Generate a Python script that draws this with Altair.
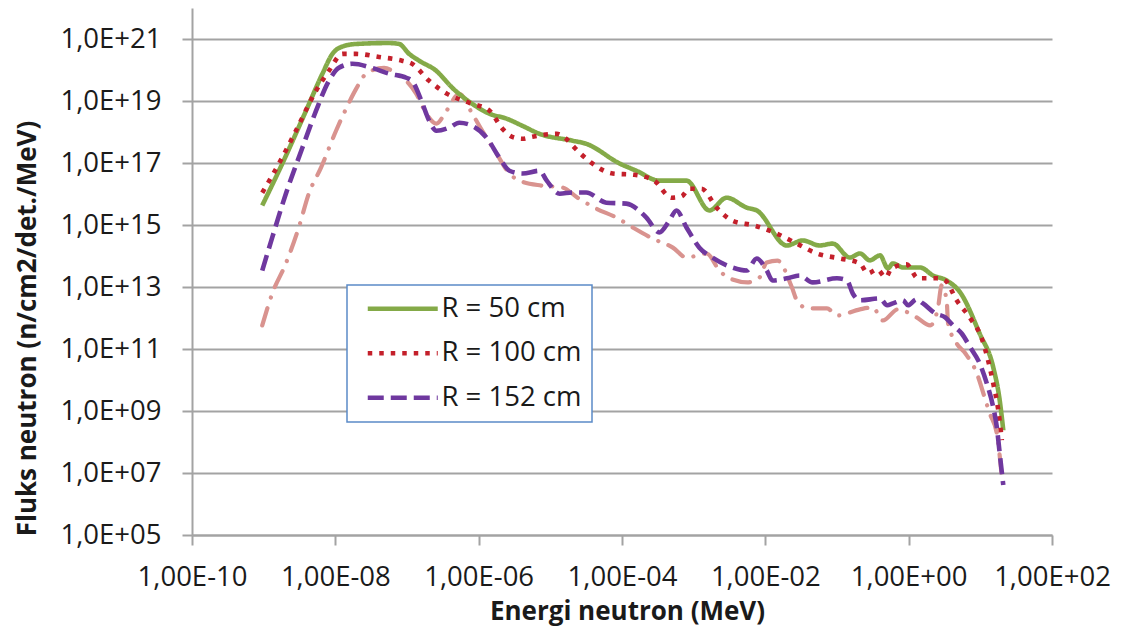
import altair as alt
import pandas as pd

# ---- data (log10 values) ----
R50_LOG_E = [-9.02, -8.74, -8.41, -8.18, -8.04, -7.95, -7.71, -7.25, -7.11, -6.97, -6.83, -6.59, -6.37,
             -6.09, -5.85, -5.61, -5.39, -5.15, -4.69, -4.50, -4.03, -3.80, -3.48, -3.10, -2.78, -2.54,
             -2.26, -2.12, -1.70, -1.48, -1.24, -1.06, -0.82, -0.68, -0.54, -0.40, -0.29, -0.22, -0.08,
             0.16, 0.34, 0.53, 0.72, 0.99, 1.18, 1.27, 1.32]
R50_LOG_F = [15.63, 16.98, 18.68, 19.88, 20.52, 20.71, 20.84, 20.87, 20.84, 20.52, 20.30, 19.97, 19.43,
             18.91, 18.59, 18.43, 18.20, 17.94, 17.72, 17.62, 16.98, 16.75, 16.43, 16.43, 15.47, 15.88,
             15.56, 15.47, 14.34, 14.50, 14.34, 14.40, 13.95, 14.08, 13.86, 14.02, 13.60, 13.76, 13.63,
             13.63, 13.37, 13.21, 12.82, 11.50, 10.41, 9.35, 8.38]

R100_LOG_E = [-9.02, -8.78, -8.55, -8.27, -8.09, -7.90, -7.71, -7.39, -7.07, -6.93, -6.69, -6.44, -6.13,
              -5.85, -5.67, -5.54, -5.39, -5.25, -4.91, -4.78, -4.66, -4.43, -4.13, -3.83, -3.55, -3.31,
              -3.17, -3.06, -2.89, -2.68, -2.46, -2.15, -1.84, -1.56, -1.28, -0.96, -0.68, -0.57, -0.44,
              -0.32, -0.24, -0.03, 0.13, 0.39, 0.51, 0.67, 0.86, 1.02, 1.18, 1.25, 1.30]
R100_LOG_F = [16.04, 17.01, 18.04, 19.33, 19.97, 20.52, 20.52, 20.42, 20.30, 20.20, 19.65, 19.23, 18.94,
              18.69, 18.11, 17.85, 17.78, 17.85, 17.94, 17.78, 17.49, 17.01, 16.66, 16.62, 16.43, 15.88,
              15.92, 16.17, 16.17, 15.56, 15.14, 14.98, 14.72, 14.40, 14.08, 13.92, 13.76, 13.44, 13.57,
              13.31, 13.60, 13.73, 13.28, 13.28, 13.21, 12.57, 11.99, 11.34, 9.89, 9.03, 8.06]

R152_LOG_E = [-9.02, -8.88, -8.69, -8.46, -8.27, -8.09, -7.95, -7.76, -7.49, -7.25, -7.01, -6.93, -6.80,
              -6.69, -6.59, -6.41, -6.27, -6.09, -5.89, -5.71, -5.57, -5.39, -5.15, -5.05, -4.87, -4.69,
              -4.50, -4.22, -3.94, -3.66, -3.48, -3.34, -3.24, -3.10, -2.92, -2.74, -2.46, -2.26, -2.12,
              -1.98, -1.90, -1.70, -1.52, -1.34, -1.00, -0.86, -0.78, -0.68, -0.40, -0.30, -0.22, -0.08,
              -0.01, 0.11, 0.20, 0.37, 0.51, 0.62, 0.74, 0.86, 0.99, 1.09, 1.18, 1.23, 1.27, 1.32]
R152_LOG_F = [13.53, 14.60, 16.01, 17.49, 18.68, 19.65, 20.07, 20.20, 20.07, 19.88, 19.75, 19.65, 19.01,
              18.36, 18.04, 18.14, 18.30, 18.20, 17.82, 17.17, 16.75, 16.66, 16.75, 16.43, 16.01, 16.05,
              16.05, 15.72, 15.69, 15.24, 14.76, 15.14, 15.47, 14.92, 14.27, 13.95, 13.63, 13.53, 13.92,
              13.53, 13.21, 13.28, 13.37, 13.15, 13.28, 13.21, 12.79, 12.57, 12.63, 12.41, 12.47, 12.57,
              12.41, 12.60, 12.47, 12.15, 12.02, 11.76, 11.50, 11.05, 10.54, 9.89, 9.12, 8.48, 7.64, 6.61]

# fourth (unlabelled) series, dash-dot
S4_LOG_E = [-9.02, -8.88, -8.69, -8.51, -8.37, -8.20, -7.99, -7.85, -7.71, -7.57, -7.32, -7.11, -7.01,
            -6.87, -6.73, -6.59, -6.45, -6.27, -6.09, -5.95, -5.75, -5.57, -5.43, -5.12, -4.83, -4.62,
            -4.36, -4.08, -3.85, -3.57, -3.29, -3.10, -2.82, -2.64, -2.50, -2.25, -2.08, -1.98, -1.83,
            -1.63, -1.56, -1.41, -1.14, -1.00, -0.68, -0.50, -0.36, -0.15, 0.11, 0.30, 0.41, 0.46,
            0.53, 0.55, 0.67, 0.79, 0.95, 1.06, 1.13, 1.23, 1.30]
S4_LOG_F = [11.76, 12.79, 13.76, 14.92, 16.01, 16.85, 18.04, 18.75, 19.39, 19.88, 20.07, 19.81, 19.65,
            19.23, 18.59, 18.27, 18.68, 19.23, 18.59, 18.04, 17.30, 16.66, 16.43, 16.27, 16.21, 15.88,
            15.53, 15.24, 14.92, 14.56, 14.27, 13.95, 14.08, 13.53, 13.28, 13.15, 13.31, 13.79, 13.85,
            12.99, 12.57, 12.31, 12.31, 12.08, 12.28, 12.34, 11.92, 12.28, 12.02, 11.76, 12.34, 13.05,
            12.57, 11.83, 11.18, 10.86, 10.22, 9.44, 8.93, 8.28, 6.87]

SERIES = ["R = 50 cm", "R = 100 cm", "R = 152 cm"]
COLORS = ["#84AA48", "#C4202B", "#6F389F"]
DASHES = [[1, 0], [4.5, 7], [16, 7]]
S4_NAME = "Seri 4"
S4_COLOR = "#D9938F"

X_TICKS = [1e-10, 1e-8, 1e-6, 1e-4, 1e-2, 1e0, 1e2]
Y_TICKS = [1e5, 1e7, 1e9, 1e11, 1e13, 1e15, 1e17, 1e19, 1e21]

rows = []
for name, le, lf in zip(SERIES, [R50_LOG_E, R100_LOG_E, R152_LOG_E], [R50_LOG_F, R100_LOG_F, R152_LOG_F]):
    for i, (a, b) in enumerate(zip(le, lf)):
        rows.append({"seri": name, "idx": i, "energi": 10 ** a, "fluks": 10 ** b})
df_main = pd.DataFrame(rows)
df_s4 = pd.DataFrame({"seri": S4_NAME, "idx": range(len(S4_LOG_E)),
                      "energi": [10 ** a for a in S4_LOG_E], "fluks": [10 ** b for b in S4_LOG_F]})

FONT = "Open Sans"
GRAY = "#A3A3A3"
TEXT = "#1A1A1A"

EXP = "round(log(datum.value)/LN10)"
x_label_expr = ("'1,00E' + (" + EXP + " < 0 ? '-' : '+') + (abs(" + EXP + ") < 10 ? '0' : '') + abs(" + EXP + ")")
y_label_expr = ("'1,0E+' + (" + EXP + " < 10 ? '0' : '') + " + EXP)

x_enc = alt.X("energi:Q",
              scale=alt.Scale(type="log", domain=[1e-10, 1e2]),
              axis=alt.Axis(values=X_TICKS, labelExpr=x_label_expr, grid=False,
                            title="Energi neutron (MeV)", titleX=435, titleY=76,
                            titleBaseline="middle", titleAlign="center",
                            labelPadding=18, labelFlush=False))
y_enc = alt.Y("fluks:Q",
              scale=alt.Scale(type="log", domain=[1e5, 1e22]),
              axis=alt.Axis(values=Y_TICKS, labelExpr=y_label_expr, grid=True,
                            title="Fluks neutron (n/cm2/det./MeV)", titleX=-165, titleY=320,
                            titleAngle=-90, titleBaseline="middle", titleAlign="center",
                            labelPadding=21))

legend = alt.Legend(title=None, orient="none", legendX=155, legendY=277,
                    fillColor="white", strokeColor="#5B8BC8", padding=10,
                    rowPadding=15.5, labelFont=FONT, labelFontSize=27.5, labelColor=TEXT,
                    symbolType="M-3.5,0H3.5", symbolSize=400, symbolOffset=32, labelOffset=25,
                    symbolStrokeWidth=4.6, cornerRadius=0)

s4 = alt.Chart(df_s4).mark_line(
    interpolate="monotone", strokeWidth=4.2, strokeCap="round", color=S4_COLOR,
    strokeDash=[18, 11, 0.1, 11], clip=True
).encode(x=x_enc, y=y_enc, order="idx:Q")

main = alt.Chart(df_main).mark_line(
    interpolate="monotone", strokeWidth=4.6, strokeCap="butt", clip=True
).encode(
    x=x_enc, y=y_enc, order="idx:Q",
    color=alt.Color("seri:N", scale=alt.Scale(domain=SERIES, range=COLORS), legend=legend),
    strokeDash=alt.StrokeDash("seri:N", scale=alt.Scale(domain=SERIES, range=DASHES), legend=legend),
)

chart = alt.layer(s4, main).properties(
    width=860, height=527,
    autosize=alt.AutoSizeParams(type="none"),
    padding={"left": 184, "top": 0, "right": 60, "bottom": 92},
).configure_view(stroke=None).configure_axis(
    domainColor=GRAY, domainWidth=2, tickColor=GRAY, tickWidth=2, tickSize=10,
    gridColor=GRAY, gridWidth=2,
    labelFont=FONT, labelFontSize=27.5, labelColor=TEXT,
    titleFont=FONT, titleFontSize=26, titleFontWeight="bold", titleColor=TEXT,
).configure_legend(strokeWidth=1.5)

chart.save("out.html", embed_options={"renderer": "svg", "actions": False})
